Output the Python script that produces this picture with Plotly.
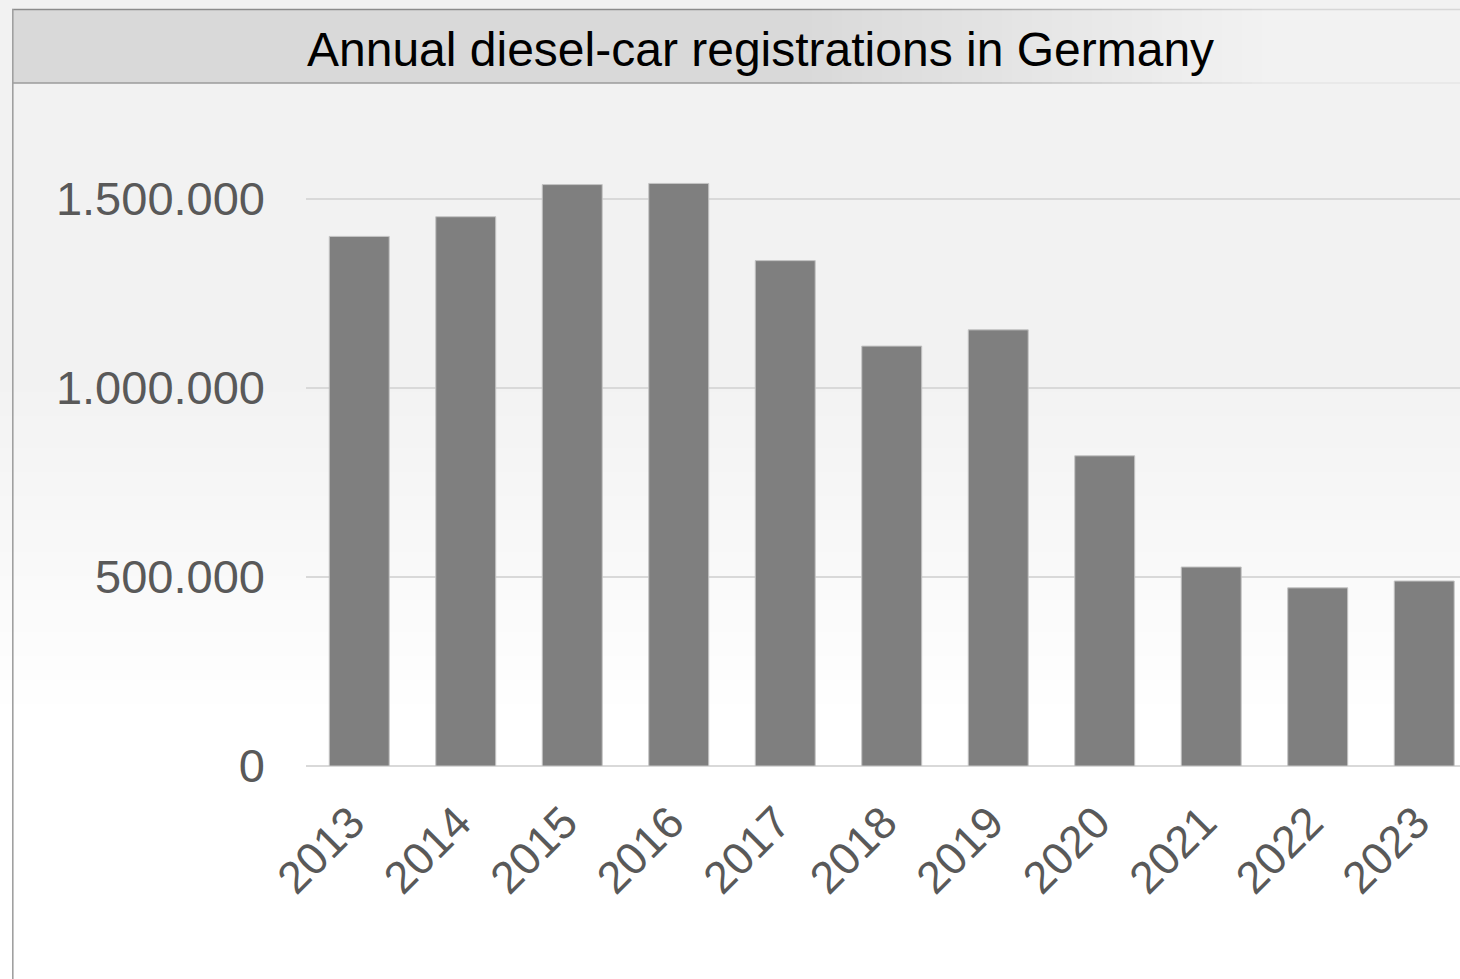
import plotly.graph_objects as go

years = ["2013", "2014", "2015", "2016", "2017", "2018", "2019", "2020", "2021", "2022", "2023"]
registrations = [1400000, 1452000, 1537000, 1540000, 1336000, 1110000, 1153000, 820000, 526000, 471000, 489000]
y_ticks = [0, 500000, 1000000, 1500000]
title_text = "Annual diesel-car registrations in Germany"

W, H = 1460, 979
L, R, T, B = 306, 0, 104, 213
PW = W - L - R
PH = H - T - B


def px(x):
    return (x - L) / PW


def py(y):
    return (H - B - y) / PH


def grey(v):
    v = int(round(v))
    return f"rgb({v},{v},{v})"


shapes = []
# vertical background gradient (whole page)
step = 8
for y0 in range(0, H, step):
    y1 = min(H, y0 + step)
    ym = (y0 + y1) / 2
    if ym <= 380:
        v = 242
    elif ym >= 720:
        v = 255
    else:
        v = 242 + 13 * (ym - 380) / 340
    shapes.append(dict(type="rect", xref="paper", yref="paper", layer="below",
                       x0=px(0), x1=px(W), y0=py(y0), y1=py(y1 + 0.5),
                       fillcolor=grey(v), line=dict(width=0)))

# title band with horizontal gradient
step = 10
for x0 in range(12, W, step):
    x1 = min(W, x0 + step)
    xm = (x0 + x1) / 2
    if xm <= 800:
        v = 217
        lv = 140
    elif xm >= 1270:
        v = 242
        lv = 215
    else:
        f = (xm - 800) / 470
        v = 217 + 25 * f
        lv = 140 + 75 * f
    shapes.append(dict(type="rect", xref="paper", yref="paper", layer="below",
                       x0=px(x0), x1=px(x1 + 0.5), y0=py(9.5), y1=py(83),
                       fillcolor=grey(v), line=dict(width=0)))
    shapes.append(dict(type="line", xref="paper", yref="paper", layer="below",
                       x0=px(x0), x1=px(x1), y0=py(9.5), y1=py(9.5),
                       line=dict(color=grey(lv), width=1.5)))
    shapes.append(dict(type="line", xref="paper", yref="paper", layer="below",
                       x0=px(x0), x1=px(x1), y0=py(83), y1=py(83),
                       line=dict(color=grey(lv + 15), width=1.5)))

# left border
shapes.append(dict(type="line", xref="paper", yref="paper", layer="below",
                   x0=px(12.8), x1=px(12.8), y0=py(9), y1=py(H),
                   line=dict(color="#a0a0a0", width=1.6)))

fig = go.Figure(go.Bar(
    x=years, y=registrations,
    marker=dict(color="#7f7f7f", line=dict(color="#c4c4c4", width=1)),
    width=0.563,
))

fig.add_annotation(
    text=title_text, xref="paper", yref="paper",
    x=px(760), y=py(49), xanchor="center", yanchor="middle",
    showarrow=False, font=dict(family="Liberation Sans, Arial", size=48, color="#000000"),
)

fig.update_layout(
    width=W, height=H,
    margin=dict(l=L, r=R, t=T, b=B, pad=0),
    paper_bgcolor="#ffffff",
    plot_bgcolor="rgba(0,0,0,0)",
    separators=",.",
    showlegend=False,
    shapes=shapes,
    font=dict(family="Liberation Sans, Arial", size=46, color="#595959"),
    xaxis=dict(
        type="category", range=[-0.5, 10.336],
        tickangle=-45, showgrid=False, showline=False, zeroline=False,
        ticks="", ticklabelstandoff=20, ticklabelshift=-8,
        tickfont=dict(size=45, color="#595959"),
    ),
    yaxis=dict(
        range=[0, 1750000], tickvals=y_ticks, tickformat=",d",
        showgrid=True, gridcolor="#d9d9d9", gridwidth=2,
        zeroline=True, zerolinecolor="#d9d9d9", zerolinewidth=2,
        showline=False, ticks="", ticklabelstandoff=40,
        tickfont=dict(size=47, color="#595959"),
    ),
)

fig.write_html("out.html")
